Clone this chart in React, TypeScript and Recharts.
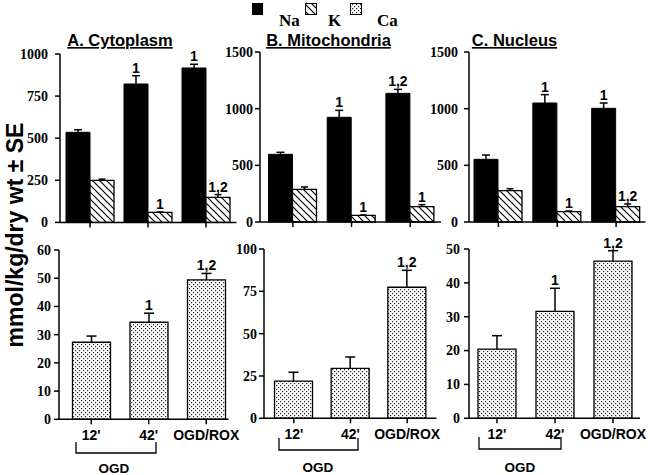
import React from 'react';
import { BarChart, Bar, XAxis, YAxis, LabelList } from 'recharts';

const groups = ["12'", "42'", 'OGD/ROX'];

// Na / K, mmol/kg dry wt
const cytoNa = [535, 822, 917];
const cytoNaErr = [15, 49, 22];
const cytoNaSig = ['', '1', '1'];
const cytoK = [250, 59, 148];
const cytoKErr = [7, 3, 17];
const cytoKSig = ['', '1', '1,2'];

const mitoNa = [597, 924, 1135];
const mitoNaErr = [18, 61, 35];
const mitoNaSig = ['', '1', '1,2'];
const mitoK = [288, 59, 135];
const mitoKErr = [21, 3, 18];
const mitoKSig = ['', '1', '1'];

const nucNa = [553, 1050, 1003];
const nucNaErr = [38, 74, 47];
const nucNaSig = ['', '1', '1'];
const nucK = [276, 91, 135];
const nucKErr = [18, 6, 24];
const nucKSig = ['', '1', '1,2'];

// Ca
const cytoCa = [27.3, 34.4, 49.4];
const cytoCaErr = [2.2, 3.2, 2.3];
const cytoCaSig = ['', '1', '1,2'];
const mitoCa = [22, 29.5, 77.4];
const mitoCaErr = [5.2, 6.7, 10];
const mitoCaSig = ['', '', '1,2'];
const nucCa = [20.4, 31.6, 46.4];
const nucCaErr = [4, 6.8, 3.1];
const nucCaSig = ['', '1', '1,2'];

const ticks1000 = [0, 250, 500, 750, 1000];
const ticks1500 = [0, 500, 1000, 1500];
const ticks60 = [0, 10, 20, 30, 40, 50, 60];
const ticks100 = [0, 25, 50, 75, 100];
const ticks50 = [0, 10, 20, 30, 40, 50];

const ionRows = (na: number[], naErr: number[], naSig: string[], k: number[], kErr: number[], kSig: string[]) =>
  groups.map((g, i) => ({ group: g, na: na[i], naErr: naErr[i], naSig: naSig[i], k: k[i], kErr: kErr[i], kSig: kSig[i] }));

const caRows = (ca: number[], err: number[], sig: string[]) =>
  groups.map((g, i) => ({ group: g, ca: ca[i], caErr: err[i], caSig: sig[i] }));

const SANS = '"Liberation Sans", Arial, sans-serif';
const SERIF = '"Liberation Serif", "Times New Roman", serif';
const Y_W = 50;
const TOP_M = 26;

const axisStyle = { stroke: '#000', strokeWidth: 1.5 };
const sigStyle = { fill: '#000', fontFamily: SANS, fontWeight: 700, fontSize: 14 };

const YTick = (props: any) => {
  const { x, y, payload } = props;
  return (
    <text
      x={x}
      y={y}
      dy="0.35em"
      textAnchor="end"
      fontFamily="Liberation Serif"
      fontWeight={700}
      fontSize={14}
      fill="#000"
      style={{ fontFamily: SERIF }}
    >
      {payload.value}
    </text>
  );
};

const XTick = (props: any) => {
  const { x, y, payload } = props;
  return (
    <text x={x} y={y} dy="0.71em" textAnchor="middle" style={{ fill: '#000', fontFamily: SANS, fontWeight: 700, fontSize: 14 }}>
      {payload.value}
    </text>
  );
};

const errShape = (cap: number) => (props: any) => {
  const { x, y, width, height } = props;
  if (x == null || y == null) return <g />;
  const cx = x + width / 2;
  return (
    <g>
      <line x1={cx} x2={cx} y1={y + height} y2={y} stroke="#000" strokeWidth={1.5} />
      <line x1={cx - cap / 2} x2={cx + cap / 2} y1={y} y2={y} stroke="#000" strokeWidth={1.5} />
    </g>
  );
};

const Patterns = ({ id }: { id: string }) => (
  <defs>
    <pattern id={`hatch-${id}`} patternUnits="userSpaceOnUse" width={7} height={7}>
      <rect width={7} height={7} fill="#fff" />
      <path d="M-1,-1 L8,8 M-1,6 L1,8 M6,-1 L8,1" stroke="#000" strokeWidth={1.2} />
    </pattern>
    <pattern id={`dots-${id}`} patternUnits="userSpaceOnUse" width={4} height={4}>
      <rect width={4} height={4} fill="#fff" />
      <rect x={0} y={0} width={1.2} height={1.2} fill="#222" />
      <rect x={2} y={2} width={1.2} height={1.2} fill="#222" />
    </pattern>
  </defs>
);

interface Geo {
  axisX: number;
  endX: number;
  plotTop: number;
  plotBottom: number;
  padL: number;
  padR: number;
  yGap: number;
}

function IonPanel({ id, rows, geo, max, ticks }: { id: string; rows: any[]; geo: Geo; max: number; ticks: number[] }) {
  const left = geo.axisX - Y_W;
  const top = geo.plotTop - TOP_M;
  const xh = 8;
  return (
    <div style={{ position: 'absolute', left, top }}>
      <BarChart
        width={geo.endX - left}
        height={geo.plotBottom - top + xh}
        data={rows}
        margin={{ top: TOP_M, right: 0, left: 0, bottom: 0 }}
        barGap={0}
        barSize={24}
      >
        <Patterns id={id} />
        <XAxis
          dataKey="group"
          height={xh}
          padding={{ left: geo.padL, right: geo.padR }}
          tickSize={5}
          axisLine={axisStyle}
          tickLine={axisStyle}
          tickFormatter={() => ''}
        />
        <YAxis
          width={Y_W}
          domain={[0, max]}
          ticks={ticks}
          interval={0}
          tickSize={5}
          tickMargin={geo.yGap}
          axisLine={axisStyle}
          tickLine={axisStyle}
          tick={YTick}
        />
        <Bar dataKey="na" stackId="na" fill="#000" stroke="#000" strokeWidth={1} isAnimationActive={false} />
        <Bar dataKey="naErr" stackId="na" shape={errShape(8)} isAnimationActive={false}>
          <LabelList dataKey="naSig" position="top" offset={3} style={sigStyle} />
        </Bar>
        <Bar dataKey="k" stackId="k" fill={`url(#hatch-${id})`} stroke="#000" strokeWidth={1.3} isAnimationActive={false} />
        <Bar dataKey="kErr" stackId="k" shape={errShape(7)} isAnimationActive={false}>
          <LabelList dataKey="kSig" position="top" offset={3} style={sigStyle} />
        </Bar>
      </BarChart>
    </div>
  );
}

function CaPanel({ id, rows, geo, max, ticks }: { id: string; rows: any[]; geo: Geo; max: number; ticks: number[] }) {
  const left = geo.axisX - Y_W;
  const top = geo.plotTop - TOP_M;
  const xh = 30;
  return (
    <div style={{ position: 'absolute', left, top }}>
      <BarChart
        width={geo.endX - left}
        height={geo.plotBottom - top + xh}
        data={rows}
        margin={{ top: TOP_M, right: 0, left: 0, bottom: 0 }}
        barSize={38}
      >
        <Patterns id={id} />
        <XAxis
          dataKey="group"
          height={xh}
          padding={{ left: geo.padL, right: geo.padR }}
          tickSize={5}
          tickMargin={6}
          interval={0}
          axisLine={axisStyle}
          tickLine={axisStyle}
          tick={XTick}
        />
        <YAxis
          width={Y_W}
          domain={[0, max]}
          ticks={ticks}
          interval={0}
          tickSize={5}
          tickMargin={geo.yGap}
          axisLine={axisStyle}
          tickLine={axisStyle}
          tick={YTick}
        />
        <Bar dataKey="ca" stackId="ca" fill={`url(#dots-${id})`} stroke="#000" strokeWidth={1.3} isAnimationActive={false} />
        <Bar dataKey="caErr" stackId="ca" shape={errShape(10)} isAnimationActive={false}>
          <LabelList dataKey="caSig" position="top" offset={3} style={sigStyle} />
        </Bar>
      </BarChart>
    </div>
  );
}

const titleStyle = { fontFamily: SANS, fontWeight: 700, fontSize: 16.5, textDecoration: 'underline' } as const;
const legendText = { fontFamily: SERIF, fontWeight: 700, fontSize: 17 } as const;
const ogdStyle = { fontFamily: SANS, fontWeight: 700, fontSize: 13.5 } as const;

export default function App() {
  return (
    <div style={{ position: 'absolute', left: 0, top: 0, width: 648, height: 475, background: '#fff', overflow: 'hidden' }}>
      <style>{'.recharts-surface{overflow:visible}'}</style>
      <IonPanel id="a1" rows={ionRows(cytoNa, cytoNaErr, cytoNaSig, cytoK, cytoKErr, cytoKSig)} max={1000} ticks={ticks1000}
        geo={{ axisX: 60, endX: 236.5, plotTop: 54.3, plotBottom: 222.7, padL: 1, padR: 1.5, yGap: 7 }} />
      <IonPanel id="b1" rows={ionRows(mitoNa, mitoNaErr, mitoNaSig, mitoK, mitoKErr, mitoKSig)} max={1500} ticks={ticks1500}
        geo={{ axisX: 260, endX: 441, plotTop: 52.3, plotBottom: 222.3, padL: 3.5, padR: 1.4, yGap: 2 }} />
      <IonPanel id="c1" rows={ionRows(nucNa, nucNaErr, nucNaSig, nucK, nucKErr, nucKSig)} max={1500} ticks={ticks1500}
        geo={{ axisX: 469, endX: 645.5, plotTop: 52.3, plotBottom: 222.3, padL: 0, padR: 0, yGap: 6 }} />
      <CaPanel id="a2" rows={caRows(cytoCa, cytoCaErr, cytoCaSig)} max={60} ticks={ticks60}
        geo={{ axisX: 58.5, endX: 228, plotTop: 250, plotBottom: 419.3, padL: 3.5, padR: -6.5, yGap: 3 }} />
      <CaPanel id="b2" rows={caRows(mitoCa, mitoCaErr, mitoCaSig)} max={100} ticks={ticks100}
        geo={{ axisX: 263.5, endX: 436, plotTop: 249, plotBottom: 418.3, padL: 1.5, padR: 1, yGap: 2 }} />
      <CaPanel id="c2" rows={caRows(nucCa, nucCaErr, nucCaSig)} max={50} ticks={ticks50}
        geo={{ axisX: 469, endX: 640, plotTop: 249, plotBottom: 418.3, padL: -1, padR: -2, yGap: 4 }} />

      <svg width={648} height={475} style={{ position: 'absolute', left: 0, top: 0, pointerEvents: 'none' }}>
        <Patterns id="lg" />
        {/* legend */}
        <rect x={252} y={3} width={11} height={12} fill="#000" />
        <text x={279} y={26} style={legendText}>Na</text>
        <rect x={305.5} y={3.5} width={11} height={11} fill="url(#hatch-lg)" stroke="#000" strokeWidth={1} />
        <text x={328} y={26} style={legendText}>K</text>
        <rect x={350.5} y={3.5} width={11} height={11} fill="url(#dots-lg)" stroke="#000" strokeWidth={1} />
        <text x={377} y={26} style={legendText}>Ca</text>

        {/* panel titles */}
        <text x={120} y={46} textAnchor="middle" style={titleStyle}>A. Cytoplasm</text>
        <text x={328.5} y={46} textAnchor="middle" style={titleStyle}>B. Mitochondria</text>
        <text x={514.5} y={46} textAnchor="middle" style={titleStyle}>C. Nucleus</text>

        {/* y label */}
        <text
          transform="translate(15,235) rotate(-90)"
          textAnchor="middle"
          dominantBaseline="central"
          style={{ fontFamily: SANS, fontWeight: 700, fontSize: 23 }}
        >
          mmol/kg/dry wt ± SE
        </text>

        {/* OGD brackets */}
        <path d="M76,442 V453 H156 V442" fill="none" stroke="#000" strokeWidth={1.3} />
        <path d="M279,438 V450 H358 V438" fill="none" stroke="#000" strokeWidth={1.3} />
        <path d="M479,437 V449 H561 V437" fill="none" stroke="#000" strokeWidth={1.3} />
        <text x={114} y={473} textAnchor="middle" style={ogdStyle}>OGD</text>
        <text x={318} y={472} textAnchor="middle" style={ogdStyle}>OGD</text>
        <text x={520} y={472} textAnchor="middle" style={ogdStyle}>OGD</text>
      </svg>
    </div>
  );
}
